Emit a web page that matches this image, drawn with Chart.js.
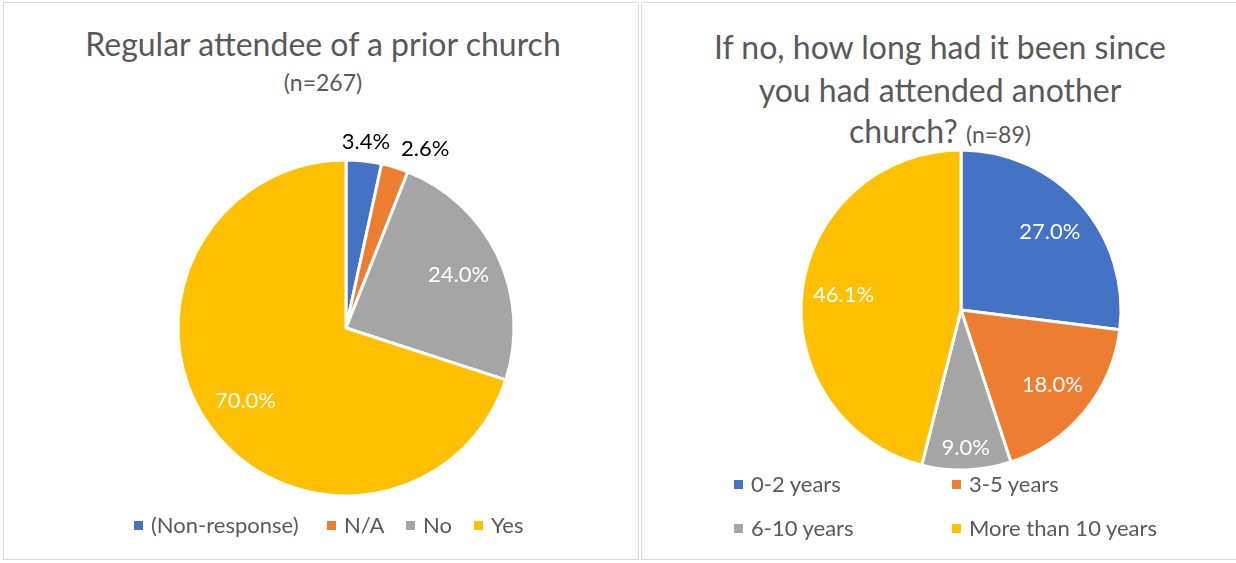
<!DOCTYPE html>
<html>
<head>
<meta charset="utf-8">
<script src="https://cdn.jsdelivr.net/npm/chart.js@4.4.0/dist/chart.umd.min.js"></script>
<style>
  html, body { margin: 0; padding: 0; background: #fff; }
  body { width: 1236px; height: 563px; position: relative; overflow: hidden; font-family: Lato, "Open Sans", sans-serif; color: #595959; }
  .box { position: absolute; top: 2px; height: 558px; border: 1px solid #d9d9d9; box-sizing: border-box; }
  .title { position: absolute; text-align: center; white-space: nowrap; line-height: 1; }
  .legend { position: absolute; font-size: 22px; white-space: nowrap; line-height: 1; }
  .item { position: absolute; display: flex; align-items: center; }
  .sw { width: 9px; height: 9px; margin-right: 8px; }
  canvas { position: absolute; }
</style>
</head>
<body>
<div class="box" style="left:3px; width:636px;"></div>
<div class="box" style="left:641px; width:600px;"></div>

<div class="title" style="left:0; width:646px; top:28px; font-size:32px;">Regular attendee of a prior church</div>
<div class="title" style="left:0; width:646px; top:71px; font-size:23px;">(n=267)</div>

<div class="title" style="left:641px; width:598px; top:31px; font-size:32px;">If no, how long had it been since</div>
<div class="title" style="left:641px; width:598px; top:74px; font-size:32px;">you had attended another</div>
<div class="title" style="left:641px; width:598px; top:115px; font-size:32px;">church? <span style="font-size:23px;">(n=89)</span></div>

<div style="position:absolute; left:146px; top:128px; width:400px; height:400px;"><canvas id="chartLeft"></canvas></div>
<div style="position:absolute; left:761px; top:110px; width:400px; height:400px;"><canvas id="chartRight"></canvas></div>

<div class="legend" id="legendLeft"></div>
<div class="legend" id="legendRight"></div>

<script>
// Datos
const colores = ['#4472C4', '#ED7D31', '#A5A5A5', '#FFC000'];

const categoriasPrevia = ['(Non-response)', 'N/A', 'No', 'Yes'];
const valoresPrevia = [3.4, 2.6, 24.0, 70.0];

const categoriasTiempo = ['0-2 years', '3-5 years', '6-10 years', 'More than 10 years'];
const valoresTiempo = [27.0, 18.0, 9.0, 46.1];

// Etiquetas de porcentaje sobre cada porción
const etiquetasPlugin = {
    id: 'etiquetas',
    afterDatasetsDraw(chart) {
        const ctx = chart.ctx;
        const meta = chart.getDatasetMeta(0);
        const data = chart.data.datasets[0].data;
        let previa = null; // caja de la etiqueta exterior anterior
        ctx.save();
        ctx.font = '22px Lato, "Open Sans", sans-serif';
        ctx.textAlign = 'center';
        ctx.textBaseline = 'middle';
        meta.data.forEach((arc, i) => {
            const p = arc.getProps(['x', 'y', 'startAngle', 'endAngle', 'outerRadius'], true);
            const mid = (p.startAngle + p.endAngle) / 2;
            const ancho = p.endAngle - p.startAngle;
            const texto = data[i].toFixed(1) + '%';
            const tw = ctx.measureText(texto).width;
            const fuera = data[i] < 5;
            let dist;
            if (fuera) dist = p.outerRadius + 19;
            else if (ancho < 0.6) dist = p.outerRadius * 0.86;
            else dist = p.outerRadius * 0.74;
            let x = p.x + Math.cos(mid) * dist;
            let y = p.y + Math.sin(mid) * dist;
            if (fuera) {
                // evitar que se encimen las etiquetas exteriores
                if (previa && x - tw / 2 < previa.der + 11) {
                    x = previa.der + 11 + tw / 2;
                }
                previa = { der: x + tw / 2 };
                ctx.fillStyle = '#000000';
            } else {
                ctx.fillStyle = '#ffffff';
            }
            ctx.fillText(texto, x, y);
        });
        ctx.restore();
    }
};

function crearGrafico(id, categorias, valores, radio) {
    new Chart(document.getElementById(id), {
        type: 'pie',
        data: {
            labels: categorias,
            datasets: [{
                data: valores,
                backgroundColor: colores,
                borderColor: '#ffffff',
                borderWidth: 3
            }]
        },
        options: {
            responsive: true,
            maintainAspectRatio: false,
            animation: false,
            radius: radio,
            layout: { padding: 0 },
            plugins: {
                legend: { display: false },
                tooltip: { enabled: false }
            }
        },
        plugins: [etiquetasPlugin]
    });
}

function crearLeyenda(id, categorias, posiciones) {
    const cont = document.getElementById(id);
    categorias.forEach((cat, i) => {
        const div = document.createElement('div');
        div.className = 'item';
        div.style.left = posiciones[i][0] + 'px';
        div.style.top = posiciones[i][1] + 'px';
        div.innerHTML = `<span class="sw" style="background:${colores[i]}"></span><span>${cat}</span>`;
        cont.appendChild(div);
    });
}

crearGrafico('chartLeft', categoriasPrevia, valoresPrevia, 168);
crearGrafico('chartRight', categoriasTiempo, valoresTiempo, 160);

crearLeyenda('legendLeft', categoriasPrevia, [[134, 514], [327, 514], [406, 514], [474, 514]]);
crearLeyenda('legendRight', categoriasTiempo, [[734, 473], [952, 473], [734, 517], [952, 517]]);
</script>
</body>
</html>
